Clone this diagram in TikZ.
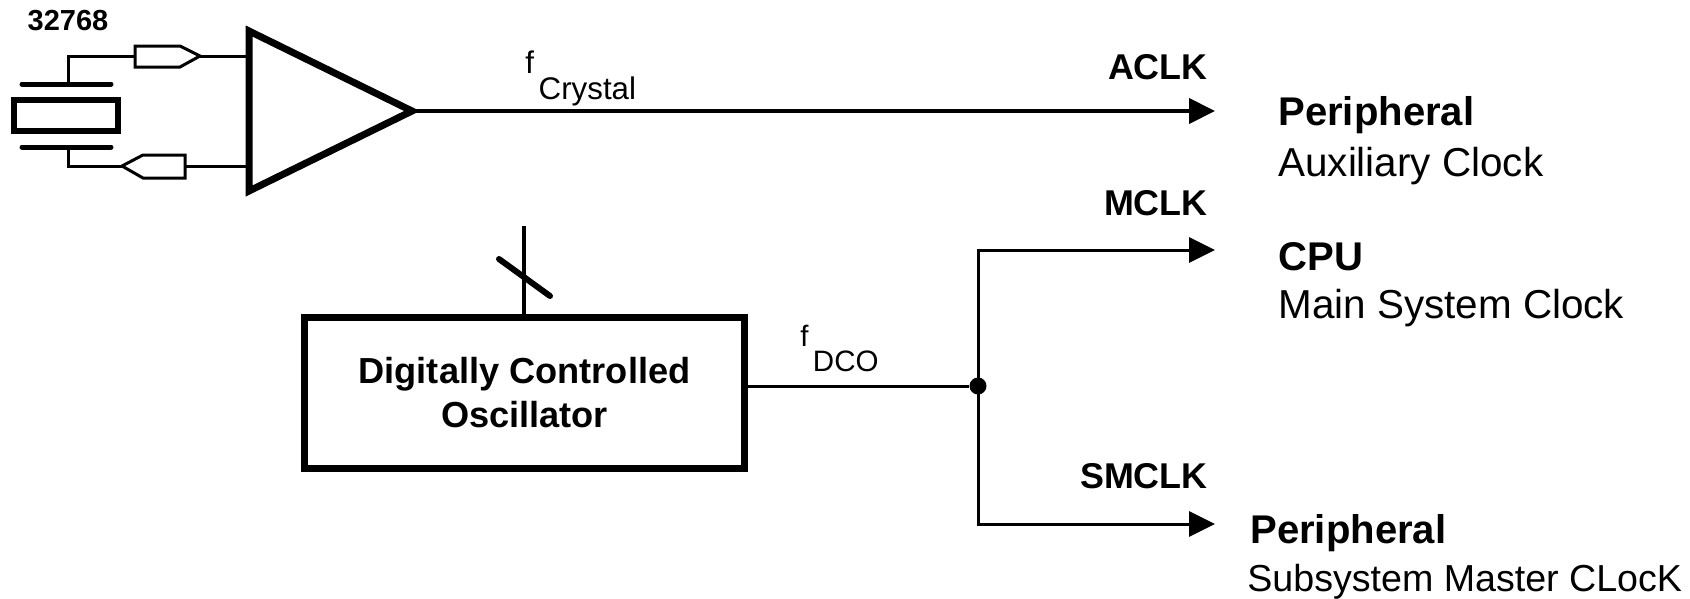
\documentclass[tikz,border=0pt]{standalone}
\usepackage{fontspec}
\setmainfont{Liberation Sans}
\usetikzlibrary{arrows.meta}
\newcommand{\clksub}[2]{#1\kern0.15em\raisebox{-0.85em}{#2}}
\tikzset{
  wire/.style = {line width=0.6mm},
  mainwire/.style = {line width=0.8mm},
  clkarrow/.style = {-{Triangle[length=5.2mm,width=5mm]}},
  heavy/.style = {line width=1.4mm, miter limit=10},
  plate/.style = {line width=1mm, line cap=round},
  junctiondot/.style = {circle, fill=black, inner sep=0pt, minimum size=3.4mm},
  blockbox/.style = {draw, line width=1.3mm, minimum width=88mm, minimum height=30.2mm, inner sep=0pt, align=center, font=\fontsize{20.6}{25}\selectfont\bfseries},
  freqlabel/.style = {anchor=base west, inner sep=0pt, font=\fontsize{17.8}{20}\selectfont},
  clklabel/.style = {anchor=base east, inner sep=0pt, font=\fontsize{20.4}{23}\selectfont\bfseries},
  targetname/.style = {anchor=base west, inner sep=0pt, font=\fontsize{22.8}{26}\selectfont\bfseries},
  targetnote/.style = {anchor=base west, inner sep=0pt, font=\fontsize{23}{26}\selectfont},
}
\begin{document}
\begin{tikzpicture}[x=0.2mm, y=-0.2mm]
\useasboundingbox (0,0) rectangle (1690,598);

% crystal with its two plates
\coordinate (plateTop) at (68,84);
\coordinate (plateBot) at (68,147);
\draw[plate] (22,84) -- (111,84);
\draw[plate] (22,147) -- (111,147);
\draw[line width=1.1mm] (14,100) rectangle (118,131);
\node[inner sep=0pt, font=\fontsize{16.5}{18}\selectfont\bfseries] (xtalfreq) at (68,21) {32768};

% amplifier triangle
\coordinate (ampTop) at (249,31);
\coordinate (ampBot) at (249,191);
\coordinate (ampTip) at (412,111);
\draw[heavy] (ampTop) -- (ampTip) -- (ampBot) -- cycle;

% upper buffer
\coordinate (bufAin) at (135,56);
\coordinate (bufAout) at (200,56);
\draw[wire] (bufAin) -- (135,46) -- (180,46) -- (bufAout) -- (180,67) -- (135,67) -- cycle;
\draw[wire] (plateTop) |- (bufAin);
\draw[wire] (bufAout) -- (ampTop |- bufAout);

% lower buffer
\coordinate (bufBin) at (185,166);
\coordinate (bufBout) at (122,166);
\draw[wire] (bufBin) -- (185,155) -- (143,155) -- (bufBout) -- (143,178) -- (185,178) -- cycle;
\draw[wire] (plateBot) |- (bufBout);
\draw[wire] (bufBin) -- (ampTop |- bufBin);

% oscillator block and its control input
\node[blockbox] (dco) at (524.5,393) {Digitally Controlled\\Oscillator};
\coordinate (ctrlTop) at (524,226);
\coordinate (slashA) at (499,259);
\coordinate (slashB) at (550,296);
\draw[mainwire] (ctrlTop) -- (ctrlTop |- dco.north);
\draw[line width=1.2mm, line cap=round] (slashA) -- (slashB);

% clock outputs
\coordinate (aclkEnd) at (1215,111);
\coordinate (mclkEnd) at (1215,250);
\coordinate (smclkEnd) at (1215,524);
\node[junctiondot] (junc) at (978,386) {};
\draw[mainwire, clkarrow] (ampTip) -- (aclkEnd);
\draw[wire] (dco.east |- junc) -- (junc);
\draw[wire, clkarrow] (junc.center) |- (mclkEnd);
\draw[wire, clkarrow] (junc.center) |- (smclkEnd);

% frequency labels
\node[freqlabel] (fcrystal) at (525,73) {\clksub{f}{Crystal}};
\node[freqlabel, font=\fontsize{16.8}{19}\selectfont] (fdco) at (800,346) {\clksub{f}{DCO}};

% clock names
\node[clklabel] (aclk) at (1208,79) {ACLK};
\node[clklabel] (mclk) at (1208,215) {MCLK};
\node[clklabel] (smclk) at (1208,488) {SMCLK};

% targets
\node[targetname] (periphA) at (1278,125) {Peripheral};
\node[targetnote] (auxnote) at (1278,176) {Auxiliary Clock};
\node[targetname] (cpu) at (1278,270) {CPU};
\node[targetnote] (mainnote) at (1278,318) {Main System Clock};
\node[targetname] (periphB) at (1250,543) {Peripheral};
\node[targetnote, font=\fontsize{21.4}{24}\selectfont] (subnote) at (1247,591) {Subsystem Master CLocK};

\end{tikzpicture}
\end{document}
